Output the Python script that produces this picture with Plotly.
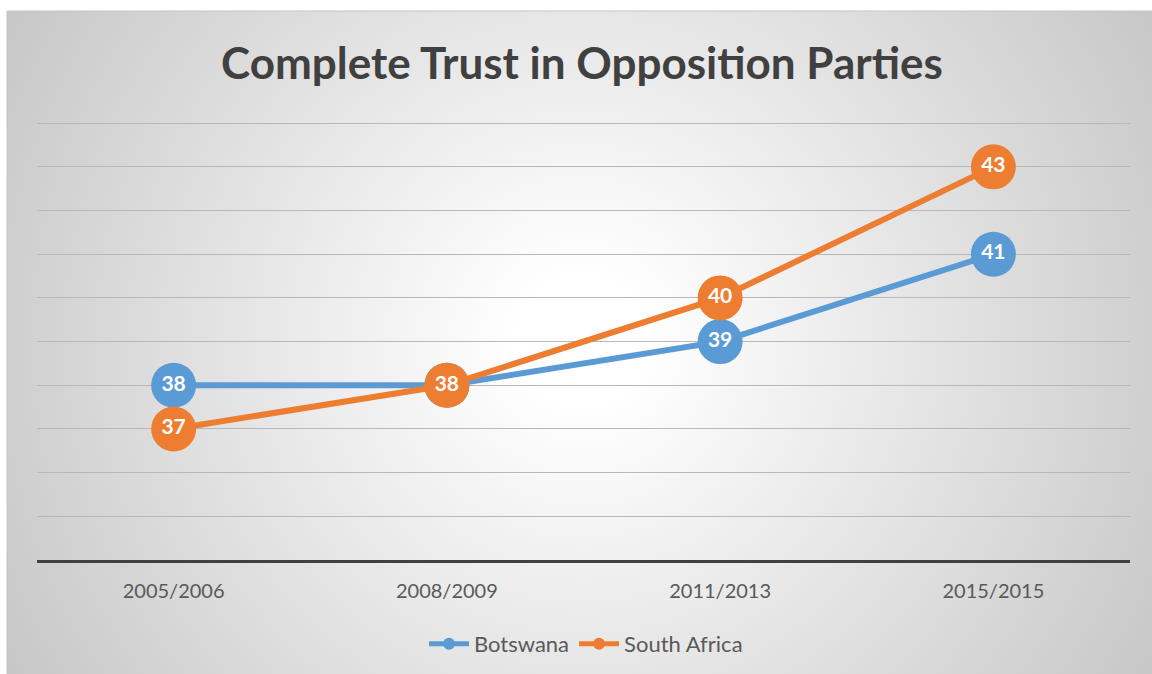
import base64
import plotly.graph_objects as go

# Survey periods and share of respondents with complete trust in opposition parties
periods = ["2005/2006", "2008/2009", "2011/2013", "2015/2015"]
botswana = [38, 38, 39, 41]
south_africa = [37, 38, 40, 43]

BLUE = "#5B9BD5"
ORANGE = "#ED7D31"
FONT = "Lato"

W, H = 1152, 674
# chart area (page pixels)
CA_X0, CA_Y0 = 7, 11
# plot area (page pixels)
PA_X0, PA_X1, PA_Y0, PA_Y1 = 37, 1130, 121, 560
Y_MIN, Y_MAX = 34, 44.05

# radial grey-to-white fill for the chart area
cw, ch = W - CA_X0, H - CA_Y0
svg = f"""<svg xmlns='http://www.w3.org/2000/svg' width='{cw}' height='{ch}' viewBox='0 0 {cw} {ch}' preserveAspectRatio='none'>
<defs><radialGradient id='g' gradientUnits='userSpaceOnUse' cx='575' cy='330' r='780'>
<stop offset='0' stop-color='#ffffff'/><stop offset='0.08' stop-color='#ffffff'/>
<stop offset='1' stop-color='#bcbcbc'/></radialGradient></defs>
<rect x='0' y='0' width='{cw}' height='{ch}' fill='url(#g)'/></svg>"""
bg_src = "data:image/svg+xml;base64," + base64.b64encode(svg.encode()).decode()

fig = go.Figure()

for name, vals, col in [("Botswana", botswana, BLUE), ("South Africa", south_africa, ORANGE)]:
    fig.add_trace(go.Scatter(
        x=periods, y=vals, name=name, mode="lines+markers+text",
        line=dict(color=col, width=6),
        marker=dict(color=col, size=45, line=dict(width=0)),
        text=[str(v) for v in vals], textposition="middle center",
        textfont=dict(family=FONT, size=21, color="white", weight="bold"),
        showlegend=False, cliponaxis=False,
    ))
    # legend entry with a small marker
    fig.add_trace(go.Scatter(
        x=[None], y=[None], name=name, mode="lines+markers",
        line=dict(color=col, width=5), marker=dict(color=col, size=12),
    ))

fig.update_layout(
    width=W, height=H,
    margin=dict(l=0, r=0, t=0, b=0),
    paper_bgcolor="white", plot_bgcolor="rgba(0,0,0,0)",
    showlegend=True,
    legend=dict(orientation="h", x=586 / W, xanchor="center", y=1 - 644 / H, yanchor="middle",
                font=dict(family=FONT, size=22, color="#595959"), bgcolor="rgba(0,0,0,0)",
                itemwidth=40, traceorder="normal"),
    xaxis=dict(domain=[PA_X0 / W, PA_X1 / W], type="category", range=[-0.5, 3.5],
               showgrid=False, showline=True, linecolor="#404040", linewidth=3,
               ticks="", ticklabelstandoff=11,
               tickfont=dict(family=FONT, size=20, color="#595959"), fixedrange=True),
    yaxis=dict(domain=[1 - PA_Y1 / H, 1 - PA_Y0 / H], range=[Y_MIN, Y_MAX], dtick=1, tick0=34,
               showgrid=True, gridcolor="#b8b8b8", gridwidth=1.3,
               showticklabels=False, zeroline=False, showline=False, fixedrange=True),
    images=[dict(source=bg_src, xref="paper", yref="paper", x=CA_X0 / W, y=1 - CA_Y0 / H,
                 sizex=cw / W, sizey=ch / H, sizing="stretch", xanchor="left", yanchor="top",
                 layer="below")],
    shapes=[dict(type="rect", xref="paper", yref="paper", x0=CA_X0 / W, x1=1.01,
                 y0=-0.01, y1=1 - CA_Y0 / H, line=dict(color="#c4c4c4", width=1),
                 fillcolor="rgba(0,0,0,0)", layer="below")],
    annotations=[dict(text="<b>Complete Trust in Opposition Parties</b>", xref="paper", yref="paper",
                      x=582 / W, y=1 - 62 / H, xanchor="center", yanchor="middle", showarrow=False,
                      font=dict(family=FONT, size=44, color="#404040"))],
)

fig.write_html("out.html")
